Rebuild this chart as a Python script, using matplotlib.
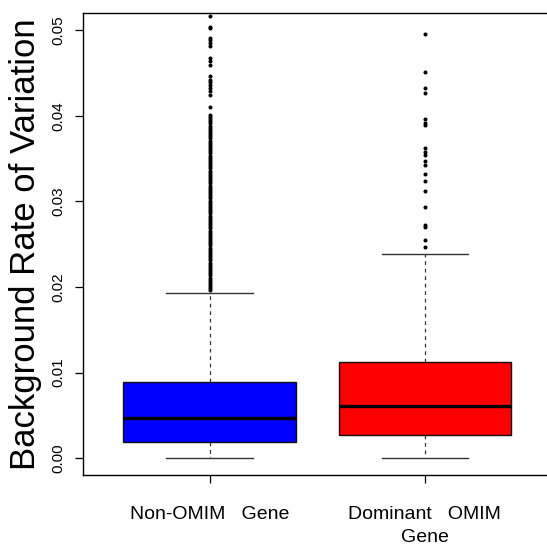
import matplotlib
matplotlib.use('Agg')
import matplotlib.pyplot as plt

plt.rcParams['font.family'] = ['Liberation Sans', 'DejaVu Sans']

categories = ['Non-OMIM   Gene', 'Dominant   OMIM\nGene']
box_colors = ['#0000FF', '#FF0000']
whisker_low = [0.0, 0.0]
q1 = [0.0019, 0.0027]
median = [0.00467, 0.00614]
q3 = [0.00887, 0.01121]
whisker_high = [0.01926, 0.02389]

outliers_nonomim = [
    0.01960, 0.01985, 0.02010, 0.02035, 0.02060, 0.02085, 0.02110, 0.02135, 0.02160, 0.02185,
    0.02210, 0.02235, 0.02260, 0.02285, 0.02310, 0.02335, 0.02360, 0.02385, 0.02410, 0.02435,
    0.02460, 0.02485, 0.02510, 0.02535, 0.02560, 0.02585, 0.02610, 0.02635, 0.02660, 0.02685,
    0.02710, 0.02735, 0.02760, 0.02785, 0.02810, 0.02835, 0.02860, 0.02885, 0.02910, 0.02935,
    0.02960, 0.02985, 0.03010, 0.03035, 0.03060, 0.03085, 0.03110, 0.03135, 0.03160, 0.03185,
    0.03210, 0.03235, 0.03260, 0.03285, 0.03310, 0.03335, 0.03360, 0.03385, 0.03410, 0.03435,
    0.03460, 0.03485, 0.03510, 0.03535, 0.03560, 0.03585, 0.03610, 0.03635, 0.03660, 0.03685,
    0.03710, 0.03735, 0.03760, 0.03785, 0.03810, 0.03835, 0.03860, 0.03885, 0.03910, 0.03935,
    0.03960, 0.03985, 0.04010,
    0.0410, 0.0424, 0.0429, 0.0432, 0.0436, 0.0439, 0.0442, 0.0447, 0.0459, 0.0464,
    0.0467, 0.0481, 0.0485, 0.0488, 0.0491, 0.0502, 0.0504, 0.0516,
]
outliers_dominant = [
    0.0247, 0.0255, 0.0270, 0.0273, 0.0293, 0.0312, 0.0324, 0.0332, 0.0342, 0.0347,
    0.0354, 0.0358, 0.0362, 0.0389, 0.0392, 0.0396, 0.0427, 0.0432, 0.0451, 0.0496,
]

yticks = [0.00, 0.01, 0.02, 0.03, 0.04, 0.05]
ytick_labels = ['0.00', '0.01', '0.02', '0.03', '0.04', '0.05']
y_label = 'Background Rate of Variation'

fig = plt.figure(figsize=(5.47, 5.46), dpi=100)
ax = fig.add_axes([83.3 / 547, 71 / 546, (549 - 83.3) / 547, 462 / 546])

stats = []
fliers = [outliers_nonomim, outliers_dominant]
for i, name in enumerate(categories):
    stats.append(dict(label=name, whislo=whisker_low[i], q1=q1[i], med=median[i],
                      q3=q3[i], whishi=whisker_high[i], fliers=fliers[i]))

bp = ax.bxp(stats, positions=[1, 2], widths=0.8, capwidths=0.4, patch_artist=True,
            boxprops=dict(linewidth=1.0, edgecolor='#111111'),
            medianprops=dict(color='black', linewidth=2.4),
            whiskerprops=dict(color='#333333', linewidth=0.9, linestyle=(0, (3, 3))),
            capprops=dict(color='#333333', linewidth=1.0),
            flierprops=dict(marker='o', markersize=2.9, markerfacecolor='black',
                            markeredgecolor='black', markeredgewidth=0, linestyle='none'))
for patch, c in zip(bp['boxes'], box_colors):
    patch.set_facecolor(c)

ax.set_xlim(0.4134, 2.5775)
ax.set_ylim(-0.00195, 0.0520)
ax.set_yticks(yticks)
ax.set_yticklabels(ytick_labels, fontsize=11, rotation=90, va='center')
ax.set_xticks([1, 2])
ax.set_xticklabels(categories, fontsize=14, linespacing=1.5)
ax.tick_params(axis='both', length=6, width=0.9, color='black')
ax.tick_params(axis='y', pad=7)
ax.tick_params(axis='x', pad=16)
for s in ax.spines.values():
    s.set_linewidth(1.0)

fig.text(26 / 547, 1 - 244 / 546, y_label, rotation=90, fontsize=25,
         ha='center', va='center')

fig.savefig('out.png', dpi=100)
